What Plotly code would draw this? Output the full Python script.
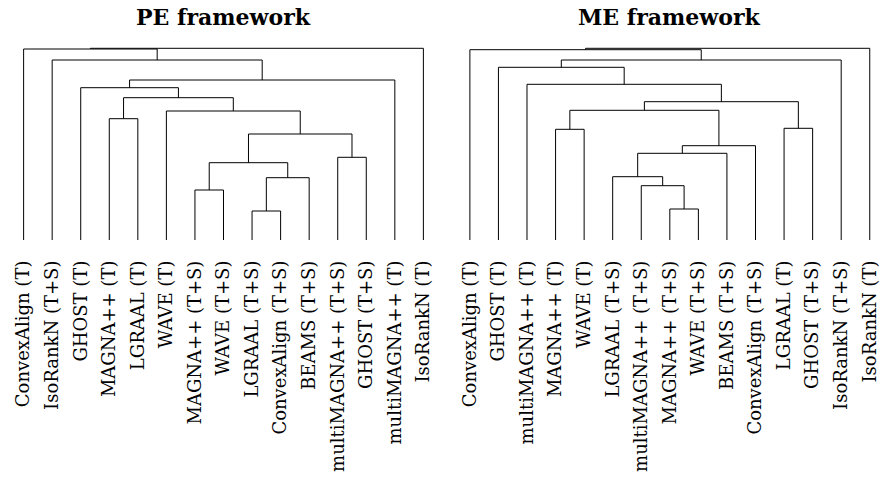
import plotly.graph_objects as go

# ---------------- data ----------------
pe_labels = ["ConvexAlign (T)", "IsoRankN (T+S)", "GHOST (T)", "MAGNA++ (T)", "LGRAAL (T)",
             "WAVE (T)", "MAGNA++ (T+S)", "WAVE (T+S)", "LGRAAL (T+S)", "ConvexAlign (T+S)",
             "BEAMS (T+S)", "multiMAGNA++ (T+S)", "GHOST (T+S)", "multiMAGNA++ (T)", "IsoRankN (T)"]
# merges: (child a, child b, height); ids >= n are earlier clusters
pe_left = [8, 6, 15, 16, 11, 18, 3, 5, 21, 2, 24, 1, 0, 27]
pe_right = [9, 7, 10, 17, 12, 19, 4, 20, 22, 23, 13, 25, 26, 14]
pe_height = [29.0, 50.0, 62.3, 77.3, 82.7, 106.0, 121.3, 129.0, 142.3, 152.3, 160.0, 180.0, 191.0, 191.7]

me_labels = ["ConvexAlign (T)", "GHOST (T)", "multiMAGNA++ (T)", "MAGNA++ (T)", "WAVE (T)",
             "LGRAAL (T+S)", "multiMAGNA++ (T+S)", "MAGNA++ (T+S)", "WAVE (T+S)", "BEAMS (T+S)",
             "ConvexAlign (T+S)", "LGRAAL (T)", "GHOST (T+S)", "IsoRankN (T+S)", "IsoRankN (T)"]
me_left = [7, 6, 5, 17, 18, 3, 11, 20, 22, 2, 1, 25, 0, 27]
me_right = [8, 15, 16, 9, 10, 4, 12, 19, 21, 23, 24, 13, 26, 14]
me_height = [31.0, 54.3, 63.3, 86.7, 94.3, 110.7, 111.7, 129.7, 138.3, 155.7, 172.7, 180.0, 190.3, 191.7]

titles = ["PE framework", "ME framework"]


def dendro_segments(n, left, right, height):
    pos = {i: float(i) for i in range(n)}
    hgt = {i: 0.0 for i in range(n)}
    xs, ys = [], []
    for k, (a, b, h) in enumerate(zip(left, right, height)):
        xa, xb = pos[a], pos[b]
        xs += [xa, xa, xb, xb, None]
        ys += [hgt[a], h, h, hgt[b], None]
        pos[n + k] = (xa + xb) / 2
        hgt[n + k] = h
    return xs, ys


fig = go.Figure()
font_family = "DejaVu Serif"

panels = [
    (pe_labels, pe_left, pe_right, pe_height, "x", "y"),
    (me_labels, me_left, me_right, me_height, "x2", "y2"),
]
for labels, l, r, h, xa, ya in panels:
    xs, ys = dendro_segments(len(labels), l, r, h)
    fig.add_trace(go.Scatter(x=xs, y=ys, mode="lines", xaxis=xa, yaxis=ya,
                             line=dict(color="black", width=1), hoverinfo="skip",
                             showlegend=False))

W, H = 883, 491
y_bottom_px = 240
y_range_top = 200
ydom = [(H - y_bottom_px) / H, (H - y_bottom_px + y_range_top) / H]


def xdom(first_px, last_px, n, pad=0.3):
    sp = (last_px - first_px) / (n - 1)
    return [(first_px - pad * sp) / W, (last_px + pad * sp) / W]


dom1 = xdom(20.7, 422.3, 15)
dom2 = xdom(469.0, 870.7, 15)

xaxis_common = dict(range=[-0.3, 14.3], showgrid=False, zeroline=False, showline=False,
                    tickmode="array", tickvals=list(range(15)), tickangle=-90,
                    ticks="", ticklabelstandoff=16,
                    tickfont=dict(family=font_family, size=18, color="black"))
yaxis_common = dict(range=[0, y_range_top], domain=ydom, showgrid=False, zeroline=False,
                    showline=False, showticklabels=False, ticks="")

title_font = dict(family=font_family, size=22, color="black")
fig.update_layout(
    width=W, height=H, margin=dict(l=0, r=0, t=0, b=0),
    paper_bgcolor="white", plot_bgcolor="white",
    xaxis=dict(xaxis_common, domain=dom1, ticktext=pe_labels, anchor="y"),
    yaxis=dict(yaxis_common, anchor="x"),
    xaxis2=dict(xaxis_common, domain=dom2, ticktext=me_labels, anchor="y2"),
    yaxis2=dict(yaxis_common, anchor="x2"),
    annotations=[
        dict(text="<b>%s</b>" % titles[0], x=sum(dom1) / 2, y=1 - 17 / H, xref="paper", yref="paper",
             showarrow=False, font=title_font, xanchor="center", yanchor="middle"),
        dict(text="<b>%s</b>" % titles[1], x=sum(dom2) / 2, y=1 - 17 / H, xref="paper", yref="paper",
             showarrow=False, font=title_font, xanchor="center", yanchor="middle"),
    ],
)

fig.write_html("out.html", config={"displayModeBar": False},
               post_script="document.body.style.margin='0';")
